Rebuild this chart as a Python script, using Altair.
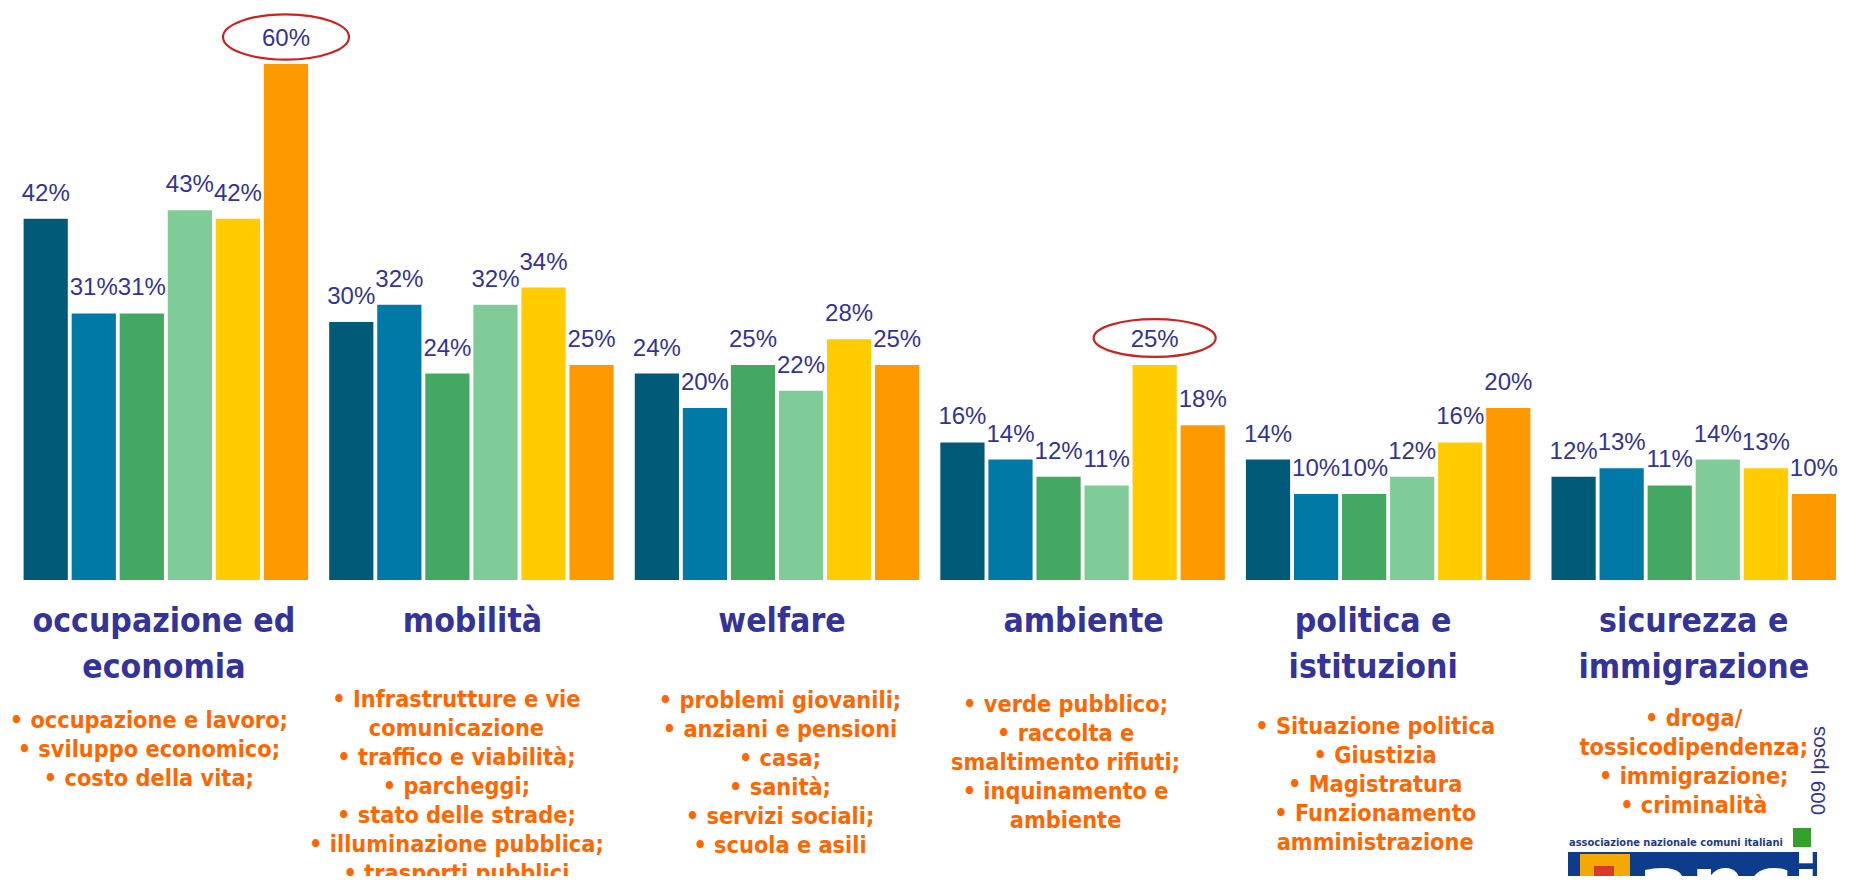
import altair as alt
import pandas as pd

# ---------------- data ----------------
group_keys = ["occupazione", "mobilita", "welfare", "ambiente", "politica", "sicurezza"]
group_titles = [
    "occupazione ed\neconomia",
    "mobilità",
    "welfare",
    "ambiente",
    "politica e\nistituzioni",
    "sicurezza e\nimmigrazione",
]
series_names = ["Serie 1", "Serie 2", "Serie 3", "Serie 4", "Serie 5", "Serie 6"]

values_occupazione = [42, 31, 31, 43, 42, 60]
values_mobilita = [30, 32, 24, 32, 34, 25]
values_welfare = [24, 20, 25, 22, 28, 25]
values_ambiente = [16, 14, 12, 11, 25, 18]
values_politica = [14, 10, 10, 12, 16, 20]
values_sicurezza = [12, 13, 11, 14, 13, 10]

bullet_texts = [
    "• occupazione e lavoro;\n• sviluppo economico;\n• costo della vita;",
    "• Infrastrutture e vie\ncomunicazione\n• traffico e viabilità;\n• parcheggi;\n• stato delle strade;\n• illuminazione pubblica;\n• trasporti pubblici",
    "• problemi giovanili;\n• anziani e pensioni\n• casa;\n• sanità;\n• servizi sociali;\n• scuola e asili",
    "• verde pubblico;\n• raccolta e\nsmaltimento rifiuti;\n• inquinamento e\nambiente",
    "• Situazione politica\n• Giustizia\n• Magistratura\n• Funzionamento\namministrazione",
    "• droga/\ntossicodipendenza;\n• immigrazione;\n• criminalità",
]

highlighted = [("occupazione", "Serie 6"), ("ambiente", "Serie 5")]

credit_text = "009 Ipsos"
logo_caption = "associazione nazionale comuni italiani"
logo_word = "anci"

# ---------------- layout / style ----------------
W, H = 1835, 868
series_colors = ["#005A78", "#0079A6", "#45A862", "#80CC98", "#FFCC00", "#FF9900"]
NAVY = "#333399"
ORANGE = "#FF6600"
TITLE_FONT = "DejaVu Sans Condensed, Open Sans, sans-serif"
LABEL_FONT = "Liberation Sans, Arial, sans-serif"

TITLE_Y = 624
TITLE_DX = [-2, 1, 5, 1, -15, 0]
BULLET_Y = [720, 699, 700, 704, 726, 718]
BULLET_DX = [-17, -15, 3, -17, -13, 0]

ELLIPSE = {"occupazione": (63, 0.36), "ambiente": (61, 0.31)}


def ellipse_path(b):
    k = 0.5523
    return (
        f"M -1 0 C -1 {-k*b:.4f} {-k:.4f} {-b:.4f} 0 {-b:.4f} "
        f"C {k:.4f} {-b:.4f} 1 {-k*b:.4f} 1 0 "
        f"C 1 {k*b:.4f} {k:.4f} {b:.4f} 0 {b:.4f} "
        f"C {-k:.4f} {b:.4f} -1 {k*b:.4f} -1 0 Z"
    )


all_values = [values_occupazione, values_mobilita, values_welfare,
              values_ambiente, values_politica, values_sicurezza]
rows = []
for g, vals in zip(group_keys, all_values):
    for s, v in zip(series_names, vals):
        rows.append({"group": g, "series": s, "value": v, "label": f"{v}%"})
df = pd.DataFrame(rows)

hl_rows = []
for g, s in highlighted:
    v = df[(df.group == g) & (df.series == s)].value.iloc[0]
    rx, b = ELLIPSE[g]
    hl_rows.append({"group": g, "series": s, "value": v,
                    "shape": ellipse_path(b), "sz": (2 * rx) ** 2})
df_hl = pd.DataFrame(hl_rows)

# y domain chosen so 0 sits at 572 px and 1% = 8.6 px
y_lo = -(H - 572) / 8.6
y_hi = 572 / 8.6

X = alt.X("group:N", scale=alt.Scale(domain=group_keys, paddingInner=0.069,
                                      paddingOuter=0.037, align=0.69), axis=None)
XO = alt.XOffset("series:N", scale=alt.Scale(domain=series_names,
                                             paddingInner=0.08, paddingOuter=0))
Y = alt.Y("value:Q", scale=alt.Scale(domain=[y_lo, y_hi], nice=False, zero=False),
          axis=None)

bars = alt.Chart(df).mark_bar().encode(
    x=X, xOffset=XO, y=Y,
    color=alt.Color("series:N", scale=alt.Scale(domain=series_names, range=series_colors),
                    legend=None),
)

labels = alt.Chart(df).mark_text(
    dy=-18, baseline="alphabetic", align="center", fontSize=24,
    font=LABEL_FONT, color=NAVY,
).encode(x=X, xOffset=XO, y=Y, text="label:N")

ellipses = alt.Chart(df_hl).mark_point(
    filled=False, stroke="#CC2222", strokeWidth=2.2, opacity=1, yOffset=-27,
).encode(
    x=X, xOffset=XO, y=Y,
    shape=alt.Shape("shape:N", scale=None),
    size=alt.Size("sz:Q", scale=None),
)

layers = [bars, labels, ellipses]

for i, g in enumerate(group_keys):
    tdf = pd.DataFrame({"group": [g], "title": [group_titles[i]],
                        "bullets": [bullet_texts[i]]})
    layers.append(alt.Chart(tdf).mark_text(
        font=TITLE_FONT, fontWeight="bold", fontSize=33.5, color=NAVY,
        lineBreak="\n", lineHeight=46, baseline="alphabetic", align="center",
        dx=TITLE_DX[i],
    ).encode(x=X, y=alt.value(TITLE_Y), text="title:N"))
    layers.append(alt.Chart(tdf).mark_text(
        font=TITLE_FONT, fontWeight="bold", fontSize=23.3, color=ORANGE,
        lineBreak="\n", lineHeight=29, baseline="alphabetic", align="center",
        dx=BULLET_DX[i],
    ).encode(x=X, y=alt.value(BULLET_Y[i]), text="bullets:N"))

one = pd.DataFrame({"a": [0]})

credit = alt.Chart(one).mark_text(
    angle=270, align="left", baseline="middle", fontSize=20.5,
    font=LABEL_FONT, color=NAVY, text=credit_text,
).encode(x=alt.value(1811), y=alt.value(807))

logo_caption_mark = alt.Chart(one).mark_text(
    align="left", baseline="alphabetic", fontSize=11, fontWeight="bold",
    font=TITLE_FONT, color="#1F3C8C", text=logo_caption,
).encode(x=alt.value(1561), y=alt.value(838))

logo_green = alt.Chart(one).mark_rect(color="#33A02C").encode(
    x=alt.value(1785), x2=alt.value(1803), y=alt.value(820), y2=alt.value(839))
logo_box = alt.Chart(one).mark_rect(color="#0D3C8C").encode(
    x=alt.value(1560), x2=alt.value(1809), y=alt.value(844), y2=alt.value(H))
logo_tower = alt.Chart(one).mark_rect(color="#F5A800").encode(
    x=alt.value(1572), x2=alt.value(1622), y=alt.value(846), y2=alt.value(H))
logo_red = alt.Chart(one).mark_rect(color="#D83A2B").encode(
    x=alt.value(1586), x2=alt.value(1606), y=alt.value(858), y2=alt.value(H))
logo_word_mark = alt.Chart(one).mark_text(
    align="left", baseline="top", fontSize=78, fontWeight="bold",
    font="DejaVu Sans, sans-serif", color="#FFFFFF", text=logo_word,
).encode(x=alt.value(1630), y=alt.value(842))

layers += [credit, logo_caption_mark, logo_green, logo_box, logo_tower,
           logo_red, logo_word_mark]

chart = alt.layer(*layers).properties(
    width=W, height=H,
    autosize=alt.AutoSizeParams(type="none"),
    padding=0,
).configure(background="#FFFFFF").configure_view(stroke=None)

chart.save("out.html", embed_options={"renderer": "svg", "actions": False})
